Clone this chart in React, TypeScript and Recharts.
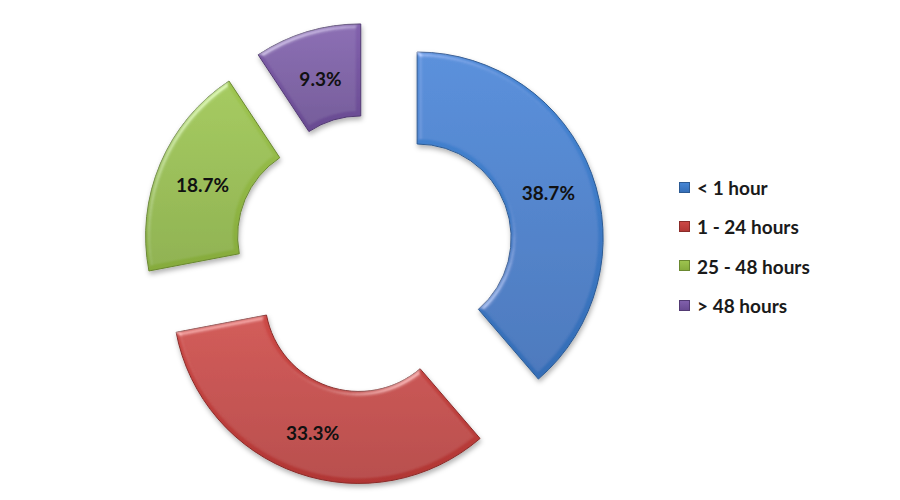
import React from 'react';
import { PieChart, Pie, Cell, Sector, Legend } from 'recharts';

const categories = ['< 1 hour', '1 - 24 hours', '25 - 48 hours', '> 48 hours'];
const shares = [38.7, 33.3, 18.7, 9.3];
const labels = ['38.7%', '33.3%', '18.7%', '9.3%'];
const colorsTop = ['#4787D6', '#CD4946', '#9EC550', '#8261AD'];
const colorsBottom = ['#346DB6', '#B13634', '#86AB3C', '#684A91'];
const strokes = ['#2C5A93', '#8A2B29', '#6A8830', '#523A73'];

const data = categories.map((name, i) => ({ name, value: shares[i], label: labels[i], idx: i }));

const OFFSET = 46;
const RAD = Math.PI / 180;

const shifted = (cx: number, cy: number, midAngle: number) => ({
  x: cx + OFFSET * Math.cos(midAngle * RAD),
  y: cy - OFFSET * Math.sin(midAngle * RAD),
});

const ExplodedSector = (props: any) => {
  const { cx, cy, midAngle, innerRadius, outerRadius, startAngle, endAngle, fill, stroke } = props;
  const p = shifted(cx, cy, midAngle);
  return (
    <g filter="url(#shadow)">
      <Sector
        cx={p.x}
        cy={p.y}
        innerRadius={innerRadius}
        outerRadius={outerRadius}
        startAngle={startAngle}
        endAngle={endAngle}
        fill={fill}
        stroke={stroke}
        strokeWidth={1}
        filter="url(#bevel)"
      />
    </g>
  );
};

const renderLabel = (props: any) => {
  const { cx, cy, midAngle, innerRadius, outerRadius, payload } = props;
  const p = shifted(cx, cy, midAngle);
  const r = (innerRadius + outerRadius) / 2;
  const x = p.x + r * Math.cos(midAngle * RAD);
  const y = p.y - r * Math.sin(midAngle * RAD) + 3;
  return (
    <text
      x={x}
      y={y}
      textAnchor="middle"
      dominantBaseline="central"
      fill="#111"
      fontFamily="Lato, 'Open Sans', sans-serif"
      fontWeight={700}
      fontSize={19}
    >
      {payload.label}
    </text>
  );
};

const renderLegend = () => (
  <div style={{ fontFamily: "Lato, 'Open Sans', sans-serif", fontWeight: 700, fontSize: 19, color: '#1a1a1a' }}>
    {categories.map((c, i) => (
      <div key={c} style={{ display: 'flex', alignItems: 'center', height: 39.3 }}>
        <svg width={12} height={12} style={{ marginRight: 6 }}>
          <rect x={0.5} y={0.5} width={10} height={10} fill={`url(#grad${i})`} stroke={strokes[i]} strokeWidth={1} />
        </svg>
        <span>{c}</span>
      </div>
    ))}
  </div>
);

export default function App() {
  return (
    <div style={{ position: 'absolute', left: 0, top: 0, width: 900, height: 500, background: '#fff' }}>
      <PieChart width={900} height={500} margin={{ top: 0, right: 0, bottom: 0, left: 0 }}>
        <defs>
          {colorsTop.map((c, i) => (
            <linearGradient key={i} id={`grad${i}`} x1="0" y1="0" x2="0" y2="1">
              <stop offset="0%" stopColor={c} />
              <stop offset="100%" stopColor={colorsBottom[i]} />
            </linearGradient>
          ))}
          <filter id="bevel" x="-10%" y="-10%" width="120%" height="120%">
            <feGaussianBlur in="SourceAlpha" stdDeviation="2.5" result="blur" />
            <feSpecularLighting in="blur" surfaceScale="3" specularConstant="0.7" specularExponent="18" lightingColor="#ffffff" result="spec">
              <feDistantLight azimuth="235" elevation="35" />
            </feSpecularLighting>
            <feComposite in="spec" in2="SourceAlpha" operator="in" result="specOut" />
            <feComposite in="SourceGraphic" in2="specOut" operator="arithmetic" k1="0" k2="1" k3="0.5" k4="0" />
          </filter>
          <filter id="shadow" x="-20%" y="-20%" width="140%" height="140%">
            <feDropShadow dx="1" dy="3" stdDeviation="2.5" floodColor="#000" floodOpacity="0.3" />
          </filter>
        </defs>
        <Pie
          data={data}
          dataKey="value"
          nameKey="name"
          cx={374}
          cy={254}
          innerRadius={94}
          outerRadius={186}
          startAngle={90}
          endAngle={-270}
          isAnimationActive={false}
          shape={ExplodedSector}
          label={renderLabel}
          labelLine={false}
        >
          {data.map((d, i) => (
            <Cell key={d.name} fill={`url(#grad${i})`} stroke={strokes[i]} />
          ))}
        </Pie>
        <Legend
          layout="vertical"
          verticalAlign="top"
          align="right"
          content={renderLegend}
          wrapperStyle={{ left: 679, top: 168, width: 200, right: 'auto' }}
        />
      </PieChart>
    </div>
  );
}
